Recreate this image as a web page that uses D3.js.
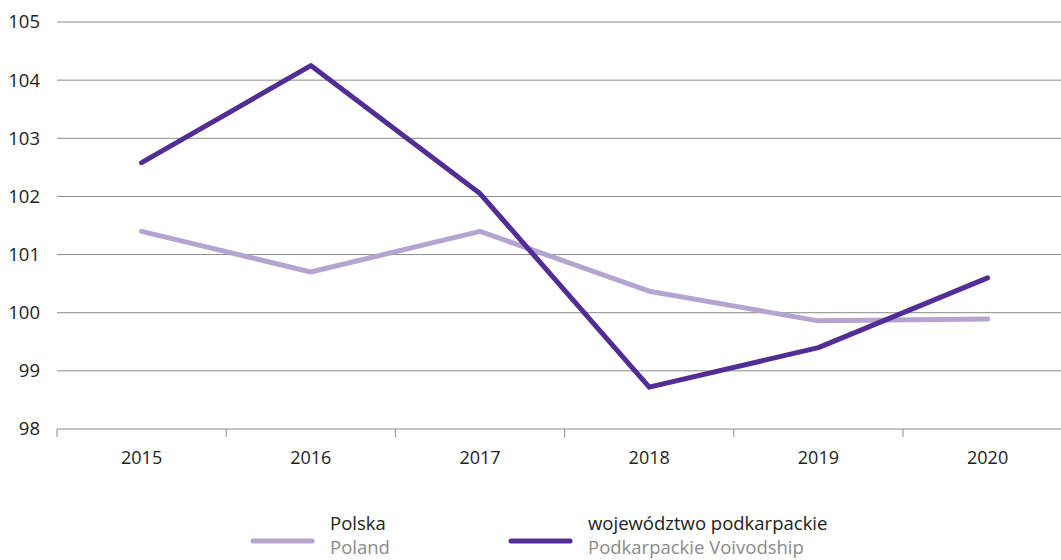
<!DOCTYPE html>
<html>
<head>
<meta charset="utf-8">
<script src="https://cdn.jsdelivr.net/npm/d3@7"></script>
<style>
  body { margin: 0; background: #fff; }
  svg { display: block; font-family: "Open Sans", sans-serif; }
</style>
</head>
<body>
<div id="chart"></div>
<script>
const years = ['2015', '2016', '2017', '2018', '2019', '2020'];
const polska = [101.4, 100.7, 101.4, 100.37, 99.86, 99.89];
const podkarpackie = [102.58, 104.25, 102.05, 98.72, 99.4, 100.6];
const yTicks = [98, 99, 100, 101, 102, 103, 104, 105];

const series = [
  { pl: 'Polska', en: 'Poland', values: polska, color: '#b3a4d0' },
  { pl: 'województwo podkarpackie', en: 'Podkarpackie Voivodship', values: podkarpackie, color: '#512d95' }
];

const width = 1061, height = 560;
const margin = { left: 57, top: 22, bottom: 131 };

const svg = d3.select('#chart').append('svg')
  .attr('width', width).attr('height', height);

// bands run a bit beyond the right edge, like the original
const x = d3.scaleBand().domain(years).range([margin.left, margin.left + 169.2 * 6]);
const y = d3.scaleLinear().domain([98, 105]).range([height - margin.bottom, margin.top]);

// gridlines
svg.append('g').selectAll('line')
  .data(yTicks.slice(1))
  .join('line')
  .attr('x1', margin.left).attr('x2', width)
  .attr('y1', d => y(d)).attr('y2', d => y(d))
  .attr('stroke', '#8a8a8a').attr('stroke-width', 1);

// y labels
svg.append('g').selectAll('text')
  .data(yTicks)
  .join('text')
  .attr('x', 40).attr('y', d => y(d))
  .attr('dy', '0.35em')
  .attr('text-anchor', 'end')
  .attr('font-size', 18.5)
  .attr('fill', '#222')
  .text(d => d);

// x axis
const xAxis = svg.append('g').attr('transform', `translate(0,${y(98)})`);
xAxis.append('line')
  .attr('x1', margin.left).attr('x2', width)
  .attr('stroke', '#8a8a8a');
xAxis.selectAll('.tick')
  .data(years)
  .join('line')
  .attr('x1', d => x(d)).attr('x2', d => x(d))
  .attr('y1', 0).attr('y2', 8)
  .attr('stroke', '#8a8a8a');
xAxis.selectAll('text')
  .data(years)
  .join('text')
  .attr('x', d => x(d) + x.bandwidth() / 2)
  .attr('y', 35)
  .attr('text-anchor', 'middle')
  .attr('font-size', 18)
  .attr('fill', '#222')
  .text(d => d);

// lines
const line = d3.line()
  .x((d, i) => x(years[i]) + x.bandwidth() / 2)
  .y(d => y(d));

svg.append('g').selectAll('path')
  .data(series)
  .join('path')
  .attr('d', d => line(d.values))
  .attr('fill', 'none')
  .attr('stroke', d => d.color)
  .attr('stroke-width', 5)
  .attr('stroke-linecap', 'round')
  .attr('stroke-linejoin', 'round');

// legend
const legendX = [253, 511];
const legend = svg.append('g').selectAll('g')
  .data(series)
  .join('g')
  .attr('transform', (d, i) => `translate(${legendX[i]},541)`);
legend.append('line')
  .attr('x1', 0).attr('x2', 59)
  .attr('stroke', d => d.color)
  .attr('stroke-width', 5)
  .attr('stroke-linecap', 'round');
legend.append('text')
  .attr('x', 77).attr('y', -11)
  .attr('font-size', 18.5)
  .attr('fill', '#222')
  .text(d => d.pl);
legend.append('text')
  .attr('x', 77).attr('y', 12.5)
  .attr('font-size', 18.5)
  .attr('fill', '#8a8a8a')
  .text(d => d.en);
</script>
</body>
</html>
